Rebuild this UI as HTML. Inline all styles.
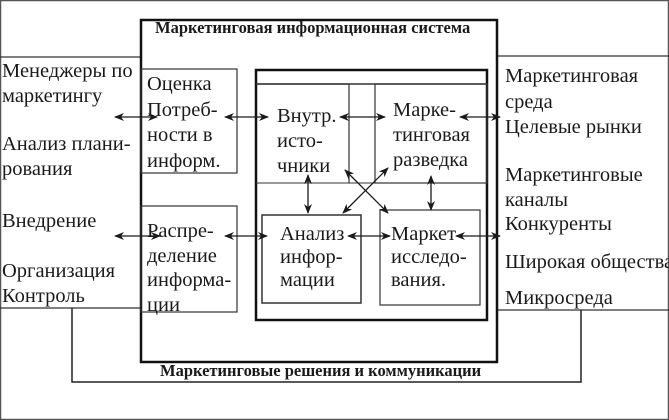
<!DOCTYPE html>
<html><head><meta charset="utf-8"><style>
body{margin:0;width:669px;height:420px;position:relative;background:#fff;overflow:hidden;font-family:"Liberation Serif","DejaVu Serif",serif;color:#1a1a1a}
.t{position:absolute;font-size:20.5px;line-height:25px;white-space:nowrap}
.b{position:absolute;font-size:16.5px;font-weight:bold;white-space:nowrap;line-height:18px}
svg{position:absolute;left:0;top:0}
</style></head><body>
<svg width="669" height="420" viewBox="0 0 669 420">
<defs><marker id="a" markerWidth="10" markerHeight="8" refX="9" refY="4" orient="auto-start-reverse" markerUnits="userSpaceOnUse"><path d="M0,0 L10,4 L0,8 L3,4 Z" fill="#1a1a1a"/></marker></defs>
<g fill="none" stroke="#333">
<rect x="0.5" y="0.5" width="668" height="419" stroke="#555" stroke-width="1.5"/>
<polyline points="0,57 141,57 141,308 0,308" stroke-width="1.2"/>
<polyline points="669,56 497,56 497,310 669,310" stroke-width="1.2"/>
<rect x="141" y="20" width="356" height="342" stroke="#111" stroke-width="2.5"/>
<rect x="256" y="70" width="231" height="250" stroke="#111" stroke-width="2.5"/>
<line x1="256" y1="84" x2="487" y2="84" stroke-width="1.5"/>
<line x1="256" y1="183" x2="487" y2="183" stroke-width="1"/>
<polyline points="256,84 349,84 349,183" stroke-width="1.2"/>
<rect x="375" y="84" width="112" height="99" stroke-width="1.2"/>
<rect x="141" y="69" width="96" height="104" stroke-width="1.2"/>
<rect x="141" y="206" width="96" height="106" stroke-width="1.2"/>
<rect x="262" y="215" width="99" height="88" stroke-width="1.5"/>
<rect x="380" y="210" width="100" height="95" stroke-width="1.2"/>
<polyline points="72,308 72,382 581,382 581,310" stroke="#222" stroke-width="1.5"/>
</g>
<g stroke="#1a1a1a" stroke-width="1.3" marker-start="url(#a)" marker-end="url(#a)">
<line x1="115" y1="117" x2="157" y2="117"/>
<line x1="225" y1="117" x2="268" y2="117"/>
<line x1="340" y1="117" x2="385" y2="117"/>
<line x1="460" y1="117" x2="500" y2="117"/>
<line x1="115" y1="236" x2="160" y2="236"/>
<line x1="225" y1="236" x2="267" y2="236"/>
<line x1="348" y1="236" x2="390" y2="236"/>
<line x1="456" y1="236" x2="500" y2="236"/>
<line x1="308" y1="175" x2="308" y2="213"/>
<line x1="431" y1="176" x2="431" y2="210"/>
<line x1="345" y1="170" x2="388" y2="213"/>
<line x1="388" y1="168" x2="343" y2="213"/>
</g>
</svg>
<div class="b" style="left:155px;top:19px">Маркетинговая информационная система</div>
<div class="b" style="left:160px;top:362px">Маркетинговые решения и коммуникации</div>
<div class="t" style="left:2px;top:59px">Менеджеры по<br>маркетингу</div>
<div class="t" style="left:2px;top:132px">Анализ плани-<br>рования</div>
<div class="t" style="left:2px;top:209px">Внедрение</div>
<div class="t" style="left:2px;top:259px">Организация<br>Контроль</div>
<div class="t" style="left:505px;top:64px;line-height:25.5px">Маркетинговая<br>среда<br>Целевые рынки</div>
<div class="t" style="left:505px;top:163px;line-height:24.5px">Маркетинговые<br>каналы<br>Конкуренты</div>
<div class="t" style="left:505px;top:250px">Широкая общества</div>
<div class="t" style="left:505px;top:286px">Микросреда</div>
<div class="t" style="left:147px;top:72px;line-height:25.5px">Оценка<br>Потреб-<br>ности в<br>информ.</div>
<div class="t" style="left:147px;top:219px;line-height:24.5px">Распре-<br>деление<br>информа-<br>ции</div>
<div class="t" style="left:277px;top:104px">Внутр.<br>исто-<br>чники</div>
<div class="t" style="left:393px;top:98px">Марке-<br>тинговая<br>разведка</div>
<div class="t" style="left:280px;top:223px;line-height:23px">Анализ<br>инфор-<br>мации</div>
<div class="t" style="left:391px;top:223px;line-height:23px">Маркет<br>исследо-<br>вания.</div>
</body></html>
